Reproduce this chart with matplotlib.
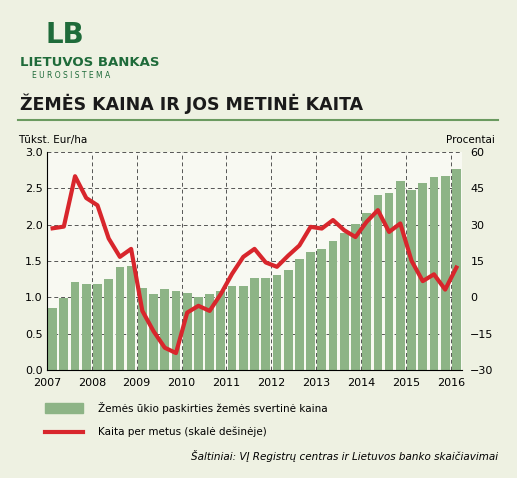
import matplotlib
matplotlib.use("Agg")
import matplotlib.pyplot as plt
import numpy as np

years = list(range(2007, 2017))
price = [0.86,0.99,1.21,1.19,1.19,1.25,1.42,1.43,1.13,1.05,1.11,1.09,1.06,1.01,1.05,1.09,
         1.15,1.16,1.27,1.27,1.31,1.37,1.53,1.62,1.66,1.78,1.88,2.01,2.16,2.41,2.43,2.60,
         2.48,2.57,2.66,2.67,2.76]
change = [28.5,29.2,50,41,38,24.3,16.7,20,-5.6,-14,-20.8,-23,-6.3,-3.5,-5.6,1.4,
          9.7,16.7,20,14.4,12.6,17.2,21.4,29.1,28.4,31.9,27.7,24.9,31.2,36,27,30.5,
          15.1,6.7,9.5,3.2,12.3]

bg = "#eef1e2"
green = "#8db486"
red = "#d8262c"
W, H = 517, 478
fig = plt.figure(figsize=(W/100, H/100), dpi=100, facecolor=bg)

ax = fig.add_axes([47/W, 1-370/H, (462-47)/W, (370-152)/H])
ax.set_facecolor("#f8f9f2")
x = np.arange(len(price)) + 0.5
ax.bar(x, price, width=0.78, color=green, zorder=2)
ax.set_xlim(0, len(price))
ax.set_ylim(0, 3.0)
ax.set_yticks(np.arange(0, 3.01, 0.5))
ax.set_yticklabels([f"{v:.1f}" for v in np.arange(0, 3.01, 0.5)])
ax.set_xticks(np.arange(0, 37, 4))
ax.set_xticklabels([str(y) for y in years])
ax.grid(True, linestyle=(0, (4, 3)), color="#555555", linewidth=0.7, zorder=1)
for s in ["top", "right"]:
    ax.spines[s].set_visible(False)
ax.tick_params(axis="y", labelsize=8, length=0, pad=3)
ax.tick_params(axis="x", labelsize=8, length=0, pad=6)

ax2 = ax.twinx()
ax2.plot(x, change, color=red, linewidth=3, zorder=3)
ax2.set_ylim(-30, 60)
ax2.set_yticks(range(-30, 61, 15))
ax2.set_yticklabels(["\u221230", "\u221215", "0", "15", "30", "45", "60"])
ax2.tick_params(labelsize=8, length=0, pad=6)
for s in ax2.spines.values():
    s.set_visible(False)

fig.text(18/W, 1-140/H, "Tūkst. Eur/ha", fontsize=7.5, va="center")
fig.text(495/W, 1-140/H, "Procentai", fontsize=7.5, va="center", ha="right")

fig.text(20/W, 1-62/H, "LIETUVOS BANKAS", fontsize=9.5, fontweight="bold", color="#1f6b3a", va="center")
fig.text(32/W, 1-75/H, "E U R O S I S T E M A", fontsize=5.5, color="#1f6b3a", va="center")
fig.text(65/W, 1-35/H, "LB", fontsize=20, fontweight="bold", color="#1f6b3a", va="center", ha="center")
fig.text(20/W, 1-104/H, "ŽEMĖS KAINA IR JOS METINĖ KAITA", fontsize=12.5, fontweight="bold",
         color="#1a1a1a", va="center")
fig.add_artist(plt.Line2D([18/W, 498/W], [1-120/H, 1-120/H], color="#6a9a60", linewidth=1.5))

fig.patches.append(plt.Rectangle((45/W, 1-413/H), 38/W, 10/H, color=green, transform=fig.transFigure))
fig.text(98/W, 1-408/H, "Žemės ūkio paskirties žemės svertinė kaina", fontsize=7.5, va="center")
fig.add_artist(plt.Line2D([45/W, 83/W], [1-432/H, 1-432/H], color=red, linewidth=3))
fig.text(98/W, 1-432/H, "Kaita per metus (skalė dešinėje)", fontsize=7.5, va="center")
fig.text(498/W, 1-456/H, "Šaltiniai: VĮ Registrų centras ir Lietuvos banko skaičiavimai",
         fontsize=7.5, style="italic", va="center", ha="right")

fig.savefig("out.png", dpi=100, facecolor=bg)
